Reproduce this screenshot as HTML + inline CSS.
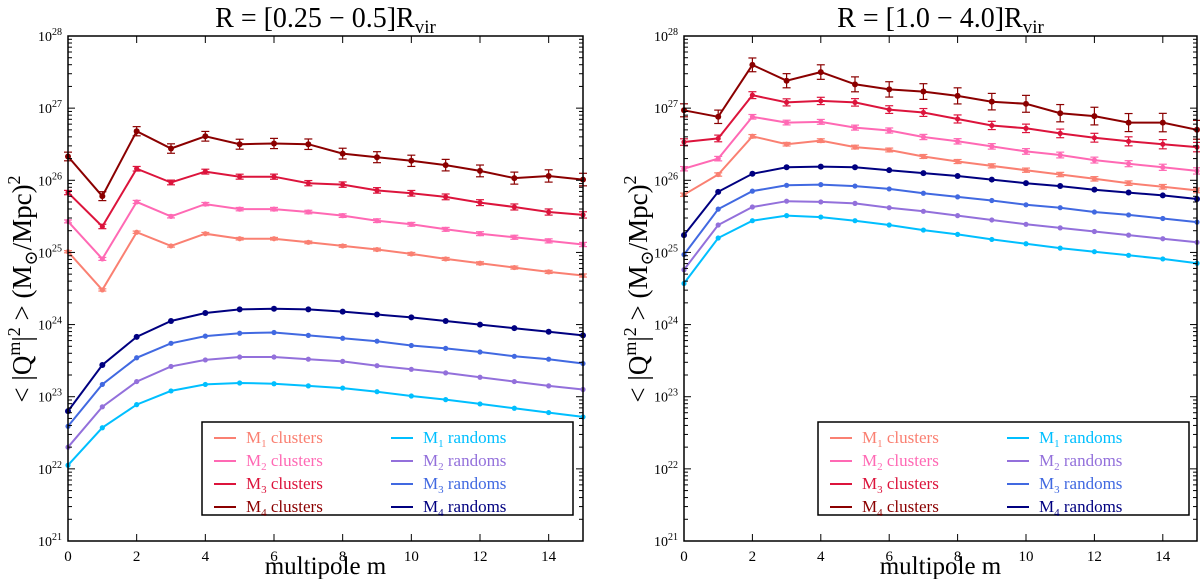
<!DOCTYPE html>
<html><head><meta charset="utf-8"><style>
body{margin:0;background:#fff;}
svg{display:block;font-family:"Liberation Serif","DejaVu Serif",serif;}
</style></head><body>
<svg id="chart" width="1200" height="579" viewBox="0 0 1200 579"></svg>
<script>
const ms = [0,1,2,3,4,5,6,7,8,9,10,11,12,13,14,15];
const seriesNames = ["M1 clusters","M2 clusters","M3 clusters","M4 clusters","M1 randoms","M2 randoms","M3 randoms","M4 randoms"];
const seriesColors = ["#FA8072","#FF69B4","#DC143C","#8B0000","#00BFFF","#9370DB","#4169E1","#000080"];
// log10 values, left panel R=[0.25-0.5]Rvir
const leftM1c = [25.01,24.48,25.28,25.09,25.26,25.19,25.19,25.14,25.09,25.04,24.98,24.91,24.85,24.79,24.73,24.68];
const leftM2c = [25.43,24.91,25.70,25.50,25.67,25.60,25.60,25.56,25.51,25.44,25.39,25.32,25.26,25.21,25.16,25.11];
const leftM3c = [25.83,25.36,26.16,25.97,26.12,26.05,26.05,25.96,25.94,25.86,25.82,25.77,25.69,25.63,25.56,25.52];
const leftM4c = [26.33,25.78,26.68,26.44,26.61,26.50,26.51,26.50,26.37,26.32,26.27,26.21,26.13,26.03,26.06,26.01];
const leftM1r = [22.05,22.57,22.89,23.08,23.17,23.19,23.18,23.15,23.12,23.07,23.01,22.96,22.90,22.84,22.78,22.72];
const leftM2r = [22.30,22.86,23.21,23.42,23.51,23.55,23.55,23.52,23.49,23.43,23.38,23.33,23.27,23.21,23.15,23.10];
const leftM3r = [22.59,23.17,23.54,23.74,23.84,23.88,23.89,23.85,23.81,23.77,23.71,23.67,23.62,23.56,23.52,23.46];
const leftM4r = [22.80,23.44,23.83,24.05,24.16,24.21,24.22,24.21,24.18,24.14,24.10,24.05,24.00,23.95,23.90,23.85];
// right panel R=[1.0-4.0]Rvir
const rightM1c = [25.80,26.08,26.61,26.50,26.55,26.46,26.42,26.33,26.26,26.20,26.14,26.08,26.02,25.96,25.91,25.86];
const rightM2c = [26.16,26.30,26.88,26.80,26.81,26.73,26.69,26.60,26.54,26.47,26.40,26.35,26.28,26.23,26.18,26.13];
const rightM3c = [26.53,26.58,27.18,27.08,27.10,27.08,26.98,26.94,26.85,26.76,26.72,26.65,26.59,26.54,26.50,26.46];
const rightM4c = [26.97,26.88,27.60,27.38,27.50,27.33,27.26,27.23,27.17,27.09,27.06,26.93,26.89,26.80,26.80,26.70];
const rightM1r = [24.57,25.20,25.44,25.51,25.49,25.44,25.38,25.31,25.25,25.18,25.12,25.06,25.01,24.96,24.91,24.85];
const rightM2r = [24.76,25.38,25.63,25.71,25.70,25.68,25.62,25.57,25.51,25.45,25.39,25.34,25.29,25.24,25.19,25.14];
const rightM3r = [24.97,25.60,25.85,25.93,25.94,25.92,25.88,25.82,25.77,25.72,25.66,25.62,25.56,25.52,25.47,25.42];
const rightM4r = [25.24,25.84,26.09,26.18,26.19,26.18,26.14,26.10,26.06,26.01,25.96,25.92,25.87,25.83,25.79,25.74];
// error bar half-widths in dex per cluster series
const errDex = [0.015,0.02,0.03,0.06];
const xTicks = [0,2,4,6,8,10,12,14];
const yDecades = [21,22,23,24,25,26,27,28];

const NS="http://www.w3.org/2000/svg";
const svg=document.getElementById('chart');
function mk(tag,attrs,parent){const e=document.createElementNS(NS,tag);for(const k in attrs)e.setAttribute(k,attrs[k]);(parent||svg).appendChild(e);return e;}

function panel(x0,x1,title,data,pname){
  const y0=36,y1=541;
  const right=pname.startsWith('right');
  const g=mk('g',{});
  
  
  const sx=m=>x0+(x1-x0)*m/15;
  const sy=l=>y1-(y1-y0)*(l-21)/7;
  data.forEach((arr,si)=>{
    const col=seriesColors[si];
    const sg=mk('g',{},g);
    
    
    const pts=ms.map((m,i)=>sx(m).toFixed(1)+','+sy(arr[i]).toFixed(1)).join(' ');
    mk('polyline',{points:pts,fill:'none',stroke:col,'stroke-width':2},sg);
    ms.forEach((m,i)=>{
      const cx=sx(m),cy=sy(arr[i]);
      if(si<4){
        const e=errDex[si]*(right?1.5:1)*(1+m*0.03);
        const ya=sy(arr[i]+e),yb=sy(arr[i]-e);
        mk('line',{x1:cx,x2:cx,y1:ya,y2:yb,stroke:col,'stroke-width':1.2},sg);
        mk('line',{x1:cx-4,x2:cx+4,y1:ya,y2:ya,stroke:col,'stroke-width':1.2},sg);
        mk('line',{x1:cx-4,x2:cx+4,y1:yb,y2:yb,stroke:col,'stroke-width':1.2},sg);
      }
      const c=mk('circle',{cx:cx,cy:cy,r:si===3||si===7?3:2.6,fill:col},sg);
      
      
    });
  });
  mk('rect',{x:x0,y:y0,width:x1-x0,height:y1-y0,fill:'none',stroke:'#000','stroke-width':1.5},g);
  xTicks.forEach(t=>{
    const x=sx(t);
    mk('line',{x1:x,x2:x,y1:y1,y2:y1-7,stroke:'#000'},g);
    mk('line',{x1:x,x2:x,y1:y0,y2:y0+7,stroke:'#000'},g);
    const tx=mk('text',{x:x,y:y1+20,'font-size':15,'text-anchor':'middle'},g);tx.textContent=t;
  });
  yDecades.forEach(d=>{
    const y=sy(d);
    mk('line',{x1:x0,x2:x0+7,y1:y,y2:y,stroke:'#000'},g);
    mk('line',{x1:x1,x2:x1-7,y1:y,y2:y,stroke:'#000'},g);
    const tx=mk('text',{x:x0-6,y:y+5,'font-size':14,'text-anchor':'end'},g);
    tx.innerHTML='10<tspan dy="-6" font-size="10">'+d+'</tspan>';
    if(d<28){for(let k=2;k<10;k++){const yy=sy(d+Math.log10(k));
      mk('line',{x1:x0,x2:x0+4,y1:yy,y2:yy,stroke:'#000'},g);
      mk('line',{x1:x1,x2:x1-4,y1:yy,y2:yy,stroke:'#000'},g);}}
  });
  const tt=mk('text',{x:(x0+x1)/2,y:27,'font-size':28,'text-anchor':'middle'},g);
  tt.innerHTML=title;
  
  
  const xl=mk('text',{x:(x0+x1)/2,y:574,'font-size':25,'text-anchor':'middle'},g);
  xl.textContent='multipole m';
  
  
  const yl=mk('text',{x:0,y:0,'font-size':27,'text-anchor':'middle',transform:'translate('+(x0-37)+',289) rotate(-90)'},g);
  yl.innerHTML='&lt; |Q<tspan dy="-11" font-size="18">m</tspan><tspan dy="11">|</tspan><tspan dy="-11" font-size="18">2</tspan><tspan dy="11"> &gt;   (M</tspan><tspan dy="6" font-size="18">⊙</tspan><tspan dy="-6">/Mpc)</tspan><tspan dy="-11" font-size="18">2</tspan>';
  
  
  const lx=x0+134,ly=422;
  const lg=mk('g',{},g);
  
  
  mk('rect',{x:lx,y:ly,width:371,height:93,fill:'#fff',stroke:'#000','stroke-width':1.5},lg);
  seriesNames.forEach((n,i)=>{
    const col=i<4?0:1,row=i%4;
    const bx=lx+12+col*177,by=ly+16+row*23;
    const eg=mk('g',{},lg);
    
    
    mk('line',{x1:bx,x2:bx+22,y1:by,y2:by,stroke:seriesColors[i],'stroke-width':2},eg);
    const t=mk('text',{x:bx+32,y:by+5,'font-size':17,fill:seriesColors[i]},eg);
    const parts=n.split(' ');
    t.innerHTML='M<tspan dy="4" font-size="11">'+parts[0].slice(1)+'</tspan><tspan dy="-4"> '+parts[1]+'</tspan>';
  });
}
panel(68,583,'R = [0.25 − 0.5]R<tspan dy="6" font-size="19">vir</tspan>',
  [leftM1c,leftM2c,leftM3c,leftM4c,leftM1r,leftM2r,leftM3r,leftM4r],'left-panel');
panel(684,1197,'R = [1.0 − 4.0]R<tspan dy="6" font-size="19">vir</tspan>',
  [rightM1c,rightM2c,rightM3c,rightM4c,rightM1r,rightM2r,rightM3r,rightM4r],'right-panel');
</script>
</body></html>
